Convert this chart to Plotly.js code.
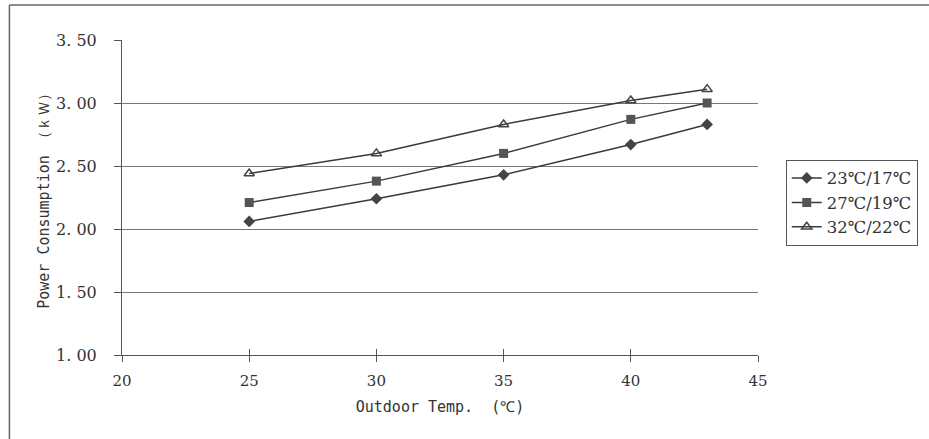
<!DOCTYPE html>
<html>
<head>
<meta charset="utf-8">
<script src="https://cdn.plot.ly/plotly-3.0.1.min.js"></script>
<style>html,body{margin:0;padding:0;background:#fff;}#chart{width:929px;height:439px;}</style>
</head>
<body>
<div id="chart"></div>
<script>
const outdoorTemp = [25, 30, 35, 40, 43];
const series23_17 = [2.06, 2.24, 2.43, 2.67, 2.83];
const series27_19 = [2.21, 2.38, 2.60, 2.87, 3.00];
const series32_22 = [2.44, 2.60, 2.83, 3.02, 3.11];
const seriesNames = ['23℃/17℃', '27℃/19℃', '32℃/22℃'];
const xTickVals = [20, 25, 30, 35, 40, 45];
const yTickVals = [1.0, 1.5, 2.0, 2.5, 3.0, 3.5];
const yTickText = ['1. 00', '1. 50', '2. 00', '2. 50', '3. 00', '3. 50'];

const lineColor = '#3a3a3a';
const serif = 'DejaVu Serif';
const mono = 'DejaVu Sans Mono';

function tr(y, name, symbol, fill) {
  return {
    x: outdoorTemp, y: y, name: name, type: 'scatter', mode: 'lines+markers',
    line: {color: lineColor, width: 1.5},
    marker: {symbol: symbol, size: 9, color: fill,
             line: {color: '#444', width: symbol === 'triangle-up-open' ? 1.5 : 0}}
  };
}

const data = [
  tr(series23_17, seriesNames[0], 'diamond', '#444'),
  tr(series27_19, seriesNames[1], 'square', '#555'),
  tr(series32_22, seriesNames[2], 'triangle-up-open', '#444'),
  {x: [], y: [], xaxis: 'x2', yaxis: 'y', showlegend: false, type: 'scatter'}
];

const layout = {
  width: 929, height: 439,
  margin: {l: 122, r: 170, t: 40, b: 84},
  paper_bgcolor: '#ffffff', plot_bgcolor: '#ffffff',
  showlegend: true,
  legend: {
    x: 1.042, xanchor: 'left', y: 0.62, yanchor: 'top',
    bordercolor: '#555', borderwidth: 1, bgcolor: '#fff',
    font: {family: serif, size: 16.5, color: '#333'},
    tracegroupgap: 0, itemwidth: 30
  },
  xaxis: {
    range: [20, 45], tickvals: xTickVals, ticktext: xTickVals.map(String),
    showgrid: false, zeroline: false,
    showline: true, linecolor: '#555', linewidth: 1,
    ticks: 'outside', ticklen: 6, tickcolor: '#555', tickwidth: 1,
    ticklabelstandoff: 6,
    tickfont: {family: serif, size: 15, color: '#333'},
    title: {text: 'Outdoor Temp.  (℃)', font: {family: mono, size: 15, color: '#333'}, standoff: 12}
  },
  xaxis2: {
    overlaying: 'x', matches: 'x', range: [20, 45], tickvals: xTickVals,
    showticklabels: false, showgrid: false, zeroline: false, showline: false,
    ticks: 'inside', ticklen: 6, tickcolor: '#555', tickwidth: 1, side: 'bottom'
  },
  yaxis: {
    range: [1.0, 3.5], tickvals: yTickVals, ticktext: yTickText,
    showgrid: true, gridcolor: '#777', gridwidth: 1, zeroline: false,
    showline: true, linecolor: '#555', linewidth: 1,
    ticks: 'outside', ticklen: 7, tickcolor: '#555', tickwidth: 1,
    ticklabelstandoff: 14,
    tickfont: {family: serif, size: 16, color: '#333'},
    title: {text: 'Power Consumption （ｋＷ）', font: {family: mono, size: 15, color: '#333'}, standoff: 2}
  },
  shapes: [
    {type: 'line', xref: 'paper', yref: 'paper', x0: -0.177, x1: 1.3, y0: 1.111, y1: 1.111,
     line: {color: '#666', width: 1.5}},
    {type: 'line', xref: 'paper', yref: 'paper', x0: -0.177, x1: -0.177, y0: 1.111, y1: -0.27,
     line: {color: '#666', width: 1.5}}
  ]
};

Plotly.newPlot('chart', data, layout, {displayModeBar: false, staticPlot: true});
</script>
</body>
</html>
